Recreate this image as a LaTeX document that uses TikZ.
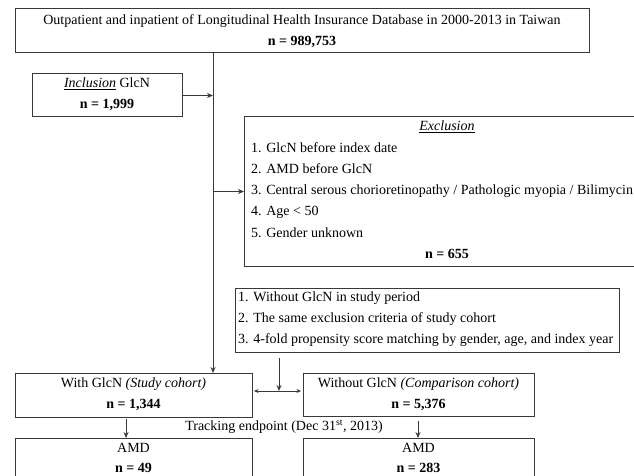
\documentclass[tikz,border=0pt]{standalone}
\usepackage{fontspec}
\setmainfont{Liberation Serif}
\usetikzlibrary{arrows.meta}
\begin{document}
\begin{tikzpicture}[x=1pt,y=-1pt,
  box/.style={draw=black!78, line width=1pt, inner sep=0pt, outer sep=0pt, anchor=north west},
  txt/.style={inner sep=0pt, font=\fontsize{14}{16}\selectfont, text height=0.7em, text depth=0.22em},
  bold/.style={txt, font=\fontsize{14}{16}\selectfont\bfseries},
  lst/.style={txt, anchor=west},
  conn/.style={draw=black!78, line width=1pt},
  arr/.style={conn, -{Stealth[length=6pt,width=5pt]}},
  darr/.style={conn, {Stealth[length=4.5pt,width=4pt]}-{Stealth[length=4.5pt,width=4pt]}}]
\useasboundingbox (0,0) rectangle (634,476);
\clip (0,0) rectangle (634,476);
\fill[white] (0,0) rectangle (634,476);
% boxes
\node[box, minimum width=574pt, minimum height=44pt] (top) at (15,9) {};
\node[box, minimum width=150pt, minimum height=43pt] (inc) at (32,74) {};
\node[box, minimum width=410pt, minimum height=149pt] (excl) at (244,117) {};
\node[box, minimum width=384pt, minimum height=64pt] (crit) at (235,288) {};
\node[box, minimum width=237pt, minimum height=44pt] (withg) at (15,373) {};
\node[box, minimum width=231pt, minimum height=43pt] (wog) at (303,373) {};
\node[box, minimum width=237pt, minimum height=60pt] (amda) at (15,438) {};
\node[box, minimum width=231pt, minimum height=60pt] (amdb) at (303,438) {};
% texts
\node[txt] (t1) at (302,22) {Outpatient and inpatient of Longitudinal Health Insurance Database in 2000-2013 in Taiwan};
\node[bold] (t2) at (302,43) {n = 989,753};
\node[txt] (i1) at (107,85) {\underline{\textit{Inclusion}} GlcN};
\node[bold] (i2) at (107,106) {n = 1,999};
\node[txt] (e0) at (447,128) {\underline{\textit{Exclusion}}};
\node[lst] (e1) at (251,150) {1. GlcN before index date};
\node[lst] (e2) at (251,171) {2. AMD before GlcN};
\node[lst] (e3) at (251,192) {3. Central serous chorioretinopathy / Pathologic myopia / Bilimycin};
\node[lst] (e4) at (251,213) {4. Age < 50};
\node[lst] (e5) at (251,235) {5. Gender unknown};
\node[bold] (e6) at (447,256) {n = 655};
\node[lst] (c1) at (238,299) {1. Without GlcN in study period};
\node[lst] (c2) at (238,320) {2. The same exclusion criteria of study cohort};
\node[lst] (c3) at (238,341) {3. 4-fold propensity score matching by gender, age, and index year};
\node[txt] (w1) at (133.5,385) {With GlcN \textit{(Study cohort)}};
\node[bold] (w2) at (133.5,406) {n = 1,344};
\node[txt] (o1) at (418.5,385) {Without GlcN \textit{(Comparison cohort)}};
\node[bold] (o2) at (418.5,406) {n = 5,376};
\node[txt] (tr) at (284,428) {Tracking endpoint (Dec 31\textsuperscript{st}, 2013)};
\node[txt] (a1) at (133.5,450) {AMD};
\node[bold] (a2) at (133.5,470) {n = 49};
\node[txt] (b1) at (418.5,450) {AMD};
\node[bold] (b2) at (418.5,470) {n = 283};
% connectors
\coordinate (spine) at (213,0);
\coordinate (dmid) at (279,391);
\coordinate (la) at (126,0);
\coordinate (ra) at (418,0);
\draw[arr] (top.south -| spine) -- (withg.north -| spine);
\draw[arr] (inc.east) -- (inc.east -| spine);
\draw[arr] (spine |- excl.west) -- (excl.west);
\draw[darr, shorten <=2pt, shorten >=2pt] (withg.east |- dmid) -- (wog.west |- dmid);
\draw[arr] ([yshift=-6pt]crit.south -| dmid) -- (dmid);
\draw[arr] ([yshift=-2pt]withg.south -| la) -- (amda.north -| la);
\draw[arr] ([yshift=-5pt]wog.south -| ra) -- (amdb.north -| ra);
\end{tikzpicture}
\end{document}
